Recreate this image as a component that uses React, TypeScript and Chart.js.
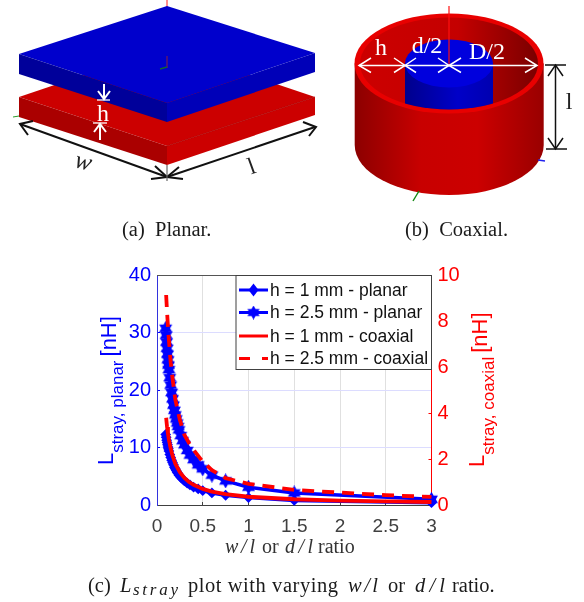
import React, { useEffect, useRef } from "react";
import { Chart, registerables } from "chart.js";

Chart.register(...registerables);

const planarRatios = [0.095, 0.1, 0.105, 0.11, 0.115, 0.12, 0.125, 0.13, 0.14, 0.15, 0.16, 0.17, 0.18, 0.19, 0.2, 0.21, 0.22, 0.23, 0.24, 0.26, 0.28, 0.3, 0.33, 0.36, 0.4, 0.45, 0.5, 0.6, 0.75, 1, 1.5, 3];
const planarH1 = [12.3, 11.8, 11.3, 10.9, 10.5, 10.1, 9.8, 9.4, 8.8, 8.3, 7.8, 7.4, 7.0, 6.6, 6.3, 6.0, 5.7, 5.5, 5.2, 4.8, 4.5, 4.2, 3.8, 3.5, 3.1, 2.8, 2.5, 2.1, 1.7, 1.3, 0.8, 0.4];
const planarH25 = [30.8, 29.6, 28.4, 27.3, 26.3, 25.3, 24.4, 23.6, 22.2, 20.9, 19.6, 18.5, 17.4, 16.5, 15.7, 15.0, 14.3, 13.7, 13.1, 12.1, 11.2, 10.5, 9.5, 8.7, 7.9, 7.0, 6.3, 5.2, 4.2, 3.1, 2.1, 1.0];
const coaxRatios = [0.1, 0.11, 0.12, 0.13, 0.15, 0.17, 0.2, 0.25, 0.3, 0.35, 0.4, 0.5, 0.6, 0.75, 1, 1.5, 2, 2.5, 3];
const coaxH1 = [3.8, 3.4, 3.1, 2.85, 2.45, 2.15, 1.8, 1.43, 1.18, 1.0, 0.88, 0.7, 0.58, 0.47, 0.36, 0.25, 0.19, 0.155, 0.13];
const coaxH25 = [9.15, 8.4, 7.75, 7.2, 6.2, 5.5, 4.6, 3.7, 3.05, 2.7, 2.4, 1.89, 1.52, 1.17, 0.92, 0.66, 0.54, 0.43, 0.35];
const seriesLabels = ["h = 1 mm - planar", "h = 2.5 mm - planar", "h = 1 mm - coaxial", "h = 2.5 mm - coaxial"];

const BLUE = "#0000ff";
const RED = "#ff0000";
const SANS = "'Liberation Sans', Arial, sans-serif";
const SERIF = "'Liberation Serif', 'Times New Roman', serif";

function zip(xs: number[], ys: number[]) {
  return xs.map((x, i) => ({ x, y: ys[i] }));
}

function starCanvas(size: number) {
  const c = document.createElement("canvas");
  c.width = size;
  c.height = size;
  const g = c.getContext("2d")!;
  const r = size / 2;
  g.fillStyle = BLUE;
  g.beginPath();
  for (let i = 0; i < 12; i++) {
    const rr = i % 2 === 0 ? r : r * 0.58;
    const a = (i * Math.PI) / 6 - Math.PI / 2;
    const px = r + rr * Math.cos(a);
    const py = r + rr * Math.sin(a);
    if (i === 0) g.moveTo(px, py);
    else g.lineTo(px, py);
  }
  g.closePath();
  g.fill();
  return c;
}

function drawSubTitle(ctx: CanvasRenderingContext2D, x: number, y: number, sub: string, color: string) {
  ctx.save();
  ctx.translate(x, y);
  ctx.rotate(-Math.PI / 2);
  ctx.fillStyle = color;
  ctx.textBaseline = "alphabetic";
  ctx.textAlign = "left";
  ctx.font = `22px ${SANS}`;
  ctx.fillText("L", 0, 0);
  const lw = ctx.measureText("L").width;
  ctx.font = `17px ${SANS}`;
  ctx.fillText(sub, lw, 10);
  const sw = ctx.measureText(sub).width;
  ctx.font = `22px ${SANS}`;
  ctx.fillText("[nH]", lw + sw + 4, 2.5);
  ctx.restore();
}

const overlayPlugin = {
  id: "overlay",
  afterDatasetsDraw(chart: any) {
    const { ctx, chartArea: a } = chart;
    ctx.save();
    ctx.strokeStyle = "#555555";
    ctx.lineWidth = 1;
    ctx.beginPath();
    ctx.moveTo(a.left, a.top);
    ctx.lineTo(a.right, a.top);
    ctx.stroke();

    const bx = 236, by = 275.5, bw = 195.5, bh = 94;
    ctx.fillStyle = "#ffffff";
    ctx.fillRect(bx, by, bw, bh);
    ctx.strokeStyle = "#404040";
    ctx.strokeRect(bx, by, bw, bh);
    const rows = [290, 312.5, 336, 358.5];
    chart.data.datasets.forEach((ds: any, i: number) => {
      const y = rows[i];
      ctx.strokeStyle = ds.borderColor;
      ctx.lineWidth = 3;
      ctx.setLineDash(i === 3 ? [11, 12] : []);
      ctx.beginPath();
      ctx.moveTo(239, y);
      ctx.lineTo(268, y);
      ctx.stroke();
      ctx.setLineDash([]);
      if (i === 0) {
        ctx.fillStyle = BLUE;
        ctx.beginPath();
        ctx.moveTo(253.5, y - 6.5);
        ctx.lineTo(258.5, y);
        ctx.lineTo(253.5, y + 6.5);
        ctx.lineTo(248.5, y);
        ctx.closePath();
        ctx.fill();
      } else if (i === 1) {
        ctx.drawImage(ds.pointStyle, 253.5 - 7, y - 7, 14, 14);
      }
      ctx.fillStyle = "#111111";
      ctx.font = `17.5px ${SANS}`;
      ctx.textBaseline = "middle";
      ctx.textAlign = "left";
      ctx.fillText(ds.label, 270, y + 1);
    });
    drawSubTitle(ctx, 113, 465, "stray, planar", BLUE);
    drawSubTitle(ctx, 484, 467, "stray, coaxial", RED);
    ctx.restore();
  },
};

function PlanarFigure() {
  return (
    <g>
      <line x1={167} y1={0} x2={167} y2={7} stroke="#ff2020" strokeWidth={1} />
      <polygon points="19,97 167,47 315,97 167,146" fill="#cc0000" />
      <polygon points="19,97 167,146 167,165 19,117" fill="#aa0000" />
      <polygon points="167,146 315,97 315,115 167,165" fill="#cc0000" />
      <line x1={167} y1={146} x2={315} y2={97} stroke="#aa0000" strokeWidth={0.7} />
      <line x1={13} y1={117} x2={19} y2={116} stroke="#2a9a2a" strokeWidth={1} />
      <polygon points="19,54 167,6 315,53 167,103" fill="#0000cc" />
      <polygon points="19,54 167,103 167,122 19,74" fill="#00009a" />
      <polygon points="167,103 315,53 315,72 167,122" fill="#0000b8" />
      <line x1={167} y1={56} x2={167} y2={68} stroke="#8a2040" strokeWidth={1} />
      <line x1={160} y1={69} x2={167} y2={67} stroke="#116633" strokeWidth={1.4} />

      <g stroke="#ffffff" strokeWidth={2} fill="none">
        <path d="M104 84V99M98 91L104 99L110 91" />
        <path d="M97 100H110" strokeWidth={1.3} />
        <path d="M93 123H107" strokeWidth={1.3} />
        <path d="M100 140V124M94 132L100 124L106 132" />
      </g>
      <text x={103} y={121} fontFamily={SERIF} fontSize={24} fill="#ffffff" textAnchor="middle">h</text>

      <g stroke="#111111" strokeWidth={2} fill="none">
        <path d="M20 124L167 177" />
        <path d="M33 121L20 124L28 135" />
        <path d="M155 166L167 177L151 179" />
        <path d="M167 177L315 127" />
        <path d="M179 167L167 177L183 179" />
        <path d="M303 122L316 127L309 136" />
      </g>
      <line x1={167} y1={165} x2={167} y2={181} stroke="#666666" strokeWidth={1.2} />
      <text x={83} y={169} fontFamily={SERIF} fontStyle="italic" fontSize={25} fill="#222222" textAnchor="middle" transform="rotate(15 83 163)">w</text>
      <text x={251} y={174} fontFamily={SERIF} fontSize={24} fill="#222222" textAnchor="middle" transform="rotate(-20 251 165)">l</text>
    </g>
  );
}

function CoaxialFigure() {
  return (
    <g>
      <defs>
        <linearGradient id="outerWall" x1="0" x2="1" y1="0" y2="0">
          <stop offset="0" stopColor="#8c0000" />
          <stop offset="0.35" stopColor="#c80000" />
          <stop offset="0.65" stopColor="#cc0000" />
          <stop offset="1" stopColor="#990000" />
        </linearGradient>
        <linearGradient id="innerWall" x1="0" x2="1" y1="0" y2="0">
          <stop offset="0" stopColor="#cc0000" />
          <stop offset="0.55" stopColor="#c40000" />
          <stop offset="1" stopColor="#7a0000" />
        </linearGradient>
        <linearGradient id="coreWall" x1="0" x2="1" y1="0" y2="0">
          <stop offset="0" stopColor="#00008c" />
          <stop offset="0.6" stopColor="#0000c8" />
          <stop offset="1" stopColor="#0000b0" />
        </linearGradient>
        <clipPath id="innerClip">
          <ellipse cx={449} cy={63.5} rx={89} ry={46} />
        </clipPath>
      </defs>
      <path d="M354.7 63.5V145A94.5 50 0 0 0 543.7 145V63.5Z" fill="url(#outerWall)" />
      <ellipse cx={449} cy={63.5} rx={94.5} ry={50} fill="#e80000" />
      <ellipse cx={449} cy={63.5} rx={89} ry={46} fill="url(#innerWall)" />
      <g clipPath="url(#innerClip)">
        <rect x={405} y={63} width={88} height={60} fill="url(#coreWall)" />
      </g>
      <ellipse cx={449} cy={63.5} rx={44} ry={24} fill="#0000dd" />
      <line x1={449} y1={6} x2={449} y2={65} stroke="#ff1010" strokeWidth={1.2} />
      <line x1={413} y1={201} x2={419} y2={191} stroke="#118811" strokeWidth={1.4} />
      <line x1={538} y1={160} x2={545} y2={161} stroke="#2222ee" strokeWidth={1.4} />

      <g stroke="#ffffff" strokeWidth={1.5} fill="none">
        <path d="M359 65.5H536" />
        <path d="M371 58L359 65.5L371 72.5" />
        <path d="M394 58L405 65.5L394 72.5" />
        <path d="M416 58L405 65.5L416 72.5" />
        <path d="M438 58L449 65.5L438 72.5" />
        <path d="M461 58L449 65.5L461 72.5" />
        <path d="M525 58L537 65.5L525 72.5" />
      </g>
      <g fontFamily={SERIF} fontSize={24} fill="#ffffff" textAnchor="middle">
        <text x={381} y={55}>h</text>
        <text x={427} y={53}>d/2</text>
        <text x={487} y={59}>D/2</text>
      </g>

      <g stroke="#111111" strokeWidth={1.5} fill="none">
        <path d="M545 65H566" />
        <path d="M546 149H567" />
        <path d="M555.5 65V149" />
        <path d="M548 76L555.5 65L563 76" />
        <path d="M548 138L555.5 149L563 138" />
      </g>
      <text x={569} y={109} fontFamily={SERIF} fontSize={24} fill="#222222" textAnchor="middle">l</text>
    </g>
  );
}

function Labels() {
  const cap = { fontFamily: SERIF, fontSize: 20.5, fill: "#1a1a1a" };
  const axis = { fontFamily: SERIF, fontSize: 20, fill: "#333333", y: 553 };
  return (
    <g>
      <text x={122} y={236} {...cap} xmlSpace="preserve">(a)  Planar.</text>
      <text x={405} y={236} {...cap} xmlSpace="preserve">(b)  Coaxial.</text>

      <text x={225} {...axis} fontStyle="italic" textLength={30}>w/l</text>
      <text x={262} {...axis}>or</text>
      <text x={285} {...axis} fontStyle="italic" textLength={28}>d/l</text>
      <text x={318} {...axis}>ratio</text>

      <text x={88} y={592} {...cap}>(c)</text>
      <text x={120} y={592} {...cap} fontStyle="italic">L</text>
      <text x={133} y={595} {...cap} fontStyle="italic" fontSize={17} textLength={45}>stray</text>
      <text x={188} y={592} {...cap} textLength={150}>plot with varying</text>
      <text x={348} y={592} {...cap} fontStyle="italic" textLength={30}>w/l</text>
      <text x={388} y={592} {...cap}>or</text>
      <text x={415} y={592} {...cap} fontStyle="italic" textLength={30}>d/l</text>
      <text x={452} y={592} {...cap}>ratio.</text>
    </g>
  );
}

export default function App() {
  const ref = useRef<HTMLCanvasElement>(null);
  useEffect(() => {
    const star = starCanvas(15);
    const chart = new Chart(ref.current!, {
      type: "line",
      data: {
        datasets: [
          { label: seriesLabels[0], data: zip(planarRatios, planarH1), yAxisID: "y", borderColor: BLUE, backgroundColor: BLUE, borderWidth: 3.5, pointStyle: "rectRot", pointRadius: 5.4, pointBorderWidth: 0, order: 3, clip: false },
          { label: seriesLabels[1], data: zip(planarRatios, planarH25), yAxisID: "y", borderColor: BLUE, backgroundColor: BLUE, borderWidth: 3.5, pointStyle: star, pointRadius: 7.5, order: 2, clip: false },
          { label: seriesLabels[2], data: zip(coaxRatios, coaxH1), yAxisID: "y2", borderColor: RED, borderWidth: 3.8, pointRadius: 0, order: 1, clip: false },
          { label: seriesLabels[3], data: zip(coaxRatios, coaxH25), yAxisID: "y2", borderColor: RED, borderWidth: 3.8, borderDash: [12, 8], pointRadius: 0, order: 0, clip: false },
        ] as any,
      },
      options: {
        responsive: false,
        animation: false,
        layout: { padding: { top: 275.5, left: 0, right: 0, bottom: 0 } },
        plugins: { legend: { display: false }, tooltip: { enabled: false } },
        scales: {
          x: {
            type: "linear",
            min: 0,
            max: 3,
            ticks: { stepSize: 0.5, color: "#404040", font: { family: SANS, size: 19 }, padding: 13, maxRotation: 0, callback: (v: any) => String(v) },
            grid: { color: "#e0e0e0", tickColor: "#404040", tickLength: -3 },
            border: { color: "#404040", width: 1 },
            afterFit: (s: any) => { s.height = 97; },
          },
          y: {
            position: "left",
            min: 0,
            max: 40,
            ticks: { stepSize: 10, color: BLUE, font: { family: SANS, size: 20 }, padding: 9 },
            grid: { color: "#dcdcff", tickColor: BLUE, tickLength: -3 },
            border: { color: "#3333dd", width: 1 },
            afterFit: (s: any) => { s.width = 157; },
          },
          y2: {
            position: "right",
            min: 0,
            max: 10,
            ticks: { stepSize: 2, color: RED, font: { family: SANS, size: 20 }, padding: 9 },
            grid: { drawOnChartArea: false, tickColor: RED, tickLength: -3 },
            border: { color: RED, width: 1 },
            afterFit: (s: any) => { s.width = 152.5; },
          },
        },
      } as any,
      plugins: [overlayPlugin],
    });
    return () => chart.destroy();
  }, []);
  return (
    <div style={{ position: "absolute", left: 0, top: 0, width: 584, height: 602, background: "#fff", overflow: "hidden", filter: "blur(0.45px)" }}>
      <canvas ref={ref} width={584} height={602} style={{ position: "absolute", left: 0, top: 0 }} />
      <svg width={584} height={602} style={{ position: "absolute", left: 0, top: 0 }}>
        <PlanarFigure />
        <CoaxialFigure />
        <Labels />
      </svg>
    </div>
  );
}
